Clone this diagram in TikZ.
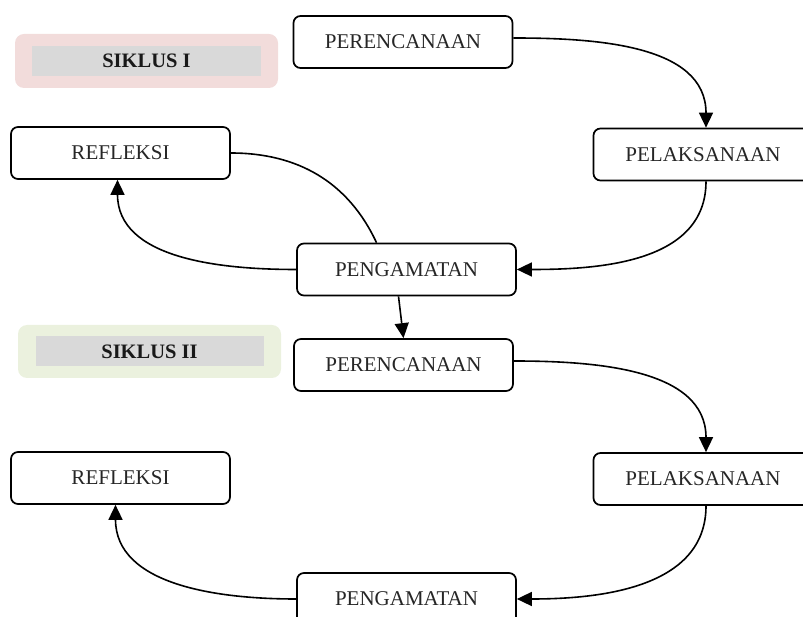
\documentclass[tikz,border=0pt]{standalone}
\usepackage{fontspec}
\setmainfont{Liberation Serif}
\usepackage{tikz}
\usetikzlibrary{arrows.meta}
\definecolor{pinkbg}{HTML}{F2DCDB}
\definecolor{greenbg}{HTML}{EBF1DE}
\definecolor{labelgray}{HTML}{D9D9D9}
\tikzstyle{stage} = [rectangle, rounded corners=7pt, minimum width=219pt, minimum height=52pt, text centered, draw=black, line width=1.7pt, fill=white, font=\fontsize{21}{25}\selectfont, text=black!85]
\tikzstyle{cyclebg} = [rectangle, rounded corners=9pt, minimum width=263pt, minimum height=54pt]
\tikzstyle{cyclelabel} = [rectangle, minimum width=229pt, minimum height=30pt, fill=labelgray, text centered, font=\fontsize{20.5}{24}\selectfont\bfseries, text=black!90]
\tikzstyle{arrow} = [line width=1.6pt, -{Triangle[width=14pt,length=15pt]}]
\tikzstyle{link} = [line width=1.6pt]

\begin{document}
\begin{tikzpicture}[x=1pt, y=1pt] % one unit = one pixel of the page
\useasboundingbox (0,0) rectangle (803,616);
\clip (0,0) rectangle (803,616);

% Cycle labels
\node (c1bg) [cyclebg, fill=pinkbg] at (146.5,555) {};
\node (c1) [cyclelabel] at (c1bg) {SIKLUS I};
\node (c2bg) [cyclebg, fill=greenbg, minimum height=53pt] at (149.5,264.5) {};
\node (c2) [cyclelabel, minimum width=228pt] at (c2bg) {SIKLUS II};

% Nodes, cycle I
\node (plan1) [stage] at (403,574) {PERENCANAAN};
\node (act1) [stage] at (703,461.5) {PELAKSANAAN};
\node (obs1) [stage] at (406.5,346.5) {PENGAMATAN};
\node (refl1) [stage] at (120.5,463) {REFLEKSI};

% Nodes, cycle II
\node (plan2) [stage] at (403.5,251) {PERENCANAAN};
\node (act2) [stage] at (703,137) {PELAKSANAAN};
\node (obs2) [stage] at (406.5,17) {PENGAMATAN};
\node (refl2) [stage] at (120.5,138) {REFLEKSI};

% Arrows, cycle I
\draw [arrow] ([yshift=4pt]plan1.east) to[out=0, in=90] ([xshift=3pt]act1.north);
\draw [arrow] ([xshift=3pt]act1.south) to[out=-90, in=0] (obs1.east);
\draw [link] ([xshift=-30pt]obs1.north) to[out=115, in=0] (refl1.east);
\draw [arrow] (obs1.west) to[out=180, in=-90] ([xshift=-3pt]refl1.south);
\draw [arrow] ([xshift=-8pt]obs1.south) -- (plan2.north);

% Arrows, cycle II
\draw [arrow] ([yshift=4pt]plan2.east) to[out=0, in=90] ([xshift=3pt]act2.north);
\draw [arrow] ([xshift=3pt]act2.south) to[out=-90, in=0] (obs2.east);
\draw [arrow] (obs2.west) to[out=180, in=-90] ([xshift=-5pt]refl2.south);

\end{tikzpicture}
\end{document}
